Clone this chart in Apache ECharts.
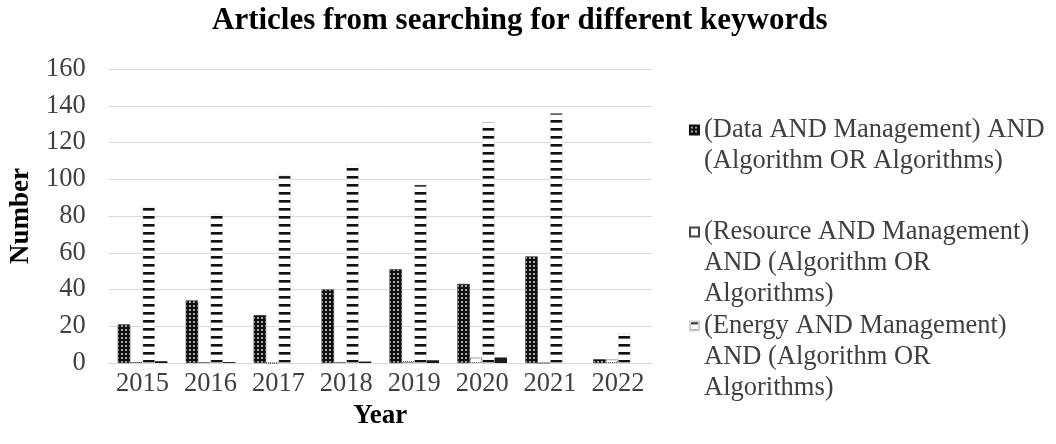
<!DOCTYPE html>
<html>
<head>
<meta charset="utf-8">
<script src="https://cdn.jsdelivr.net/npm/echarts@6/dist/echarts.min.js"></script>
<style>
  html, body { margin: 0; padding: 0; background: #fff; }
  #chart { width: 1056px; height: 444px; }
</style>
</head>
<body>
<div id="chart"></div>
<script>
// Publication years on the category axis
const years = ['2015', '2016', '2017', '2018', '2019', '2020', '2021', '2022'];

// Article counts per keyword query
const dataMgmt = [21, 34, 26, 40, 51, 43, 58, 2];
const resourceMgmt = [0.5, 0.5, 0, 0.5, 1, 3, 0, 2];
const energyMgmt = [85, 81, 102, 108, 97, 131, 136, 16];
const otherQuery = [1, 0.5, 0, 0.8, 1.5, 3, 0, 0];

// Series names and their wrapped legend lines
const seriesNames = [
  '(Data AND Management) AND (Algorithm OR Algorithms)',
  '(Resource AND Management) AND (Algorithm OR Algorithms)',
  '(Energy AND Management) AND (Algorithm OR Algorithms)',
  'Other'
];
const legendLines = [
  ['(Data AND Management) AND', '(Algorithm OR Algorithms)'],
  ['(Resource AND Management)', 'AND (Algorithm OR', 'Algorithms)'],
  ['(Energy AND Management)', 'AND (Algorithm OR', 'Algorithms)']
];

// Value axis ticks
const yMin = 0, yMax = 160, yStep = 20;

const FONT = '"Liberation Serif", "Times New Roman", serif';
const LABEL_SIZE = 26.5;
const LINE_H = 31;

function makeTile(w, h, draw) {
  const c = document.createElement('canvas');
  c.width = w; c.height = h;
  draw(c.getContext('2d'));
  return c;
}

// dark bar with a grid of light dots
const dotTile = makeTile(4, 4, g => {
  g.fillStyle = '#111111'; g.fillRect(0, 0, 4, 4);
  g.fillStyle = '#a8a8a8'; g.fillRect(1, 1, 2, 2);
});
// white bar with horizontal black stripes
const stripeTile = makeTile(4, 8, g => {
  g.fillStyle = '#ffffff'; g.fillRect(0, 0, 4, 8);
  g.fillStyle = '#111111'; g.fillRect(0, 0, 4, 2);
  g.fillStyle = '#666666'; g.fillRect(0, 2, 4, 1);
});

const chart = echarts.init(document.getElementById('chart'), null, { renderer: 'canvas' });

// One legend block per entry; leading blank lines keep the swatch beside the first text line
function legendFor(idx, centerY) {
  const n = legendLines[idx].length;
  return {
    data: [seriesNames[idx]],
    orient: 'vertical',
    left: 689,
    top: centerY - (2 * n - 1) * LINE_H / 2,
    padding: 0,
    itemWidth: 9,
    itemHeight: 9,
    icon: 'rect',
    selectedMode: false,
    formatter: () => '\n'.repeat(n - 1) + legendLines[idx].join('\n'),
    textStyle: {
      fontFamily: FONT,
      fontSize: LABEL_SIZE,
      lineHeight: LINE_H,
      color: '#404040'
    }
  };
}

const barCommon = {
  type: 'bar',
  barGap: '0%',
  barCategoryGap: '27%'
};

chart.setOption({
  animation: false,
  backgroundColor: '#ffffff',
  title: {
    text: 'Articles from searching for different keywords',
    left: 212,
    top: 5,
    padding: 0,
    textStyle: { fontFamily: FONT, fontSize: 31, fontWeight: 'bold', color: '#000' }
  },
  legend: [legendFor(0, 130), legendFor(1, 232), legendFor(2, 326)],
  grid: { left: 100, right: 404, top: 69, bottom: 81 },
  xAxis: {
    type: 'category',
    data: years,
    name: 'Year',
    nameLocation: 'middle',
    nameGap: 36,
    nameTextStyle: { fontFamily: FONT, fontSize: 27, fontWeight: 'bold', color: '#000' },
    axisLine: { show: true, lineStyle: { color: '#d9d9d9', width: 1 } },
    axisTick: { show: false },
    axisLabel: { interval: 0, fontFamily: FONT, fontSize: LABEL_SIZE, color: '#404040', margin: 8 }
  },
  yAxis: {
    type: 'value',
    min: yMin,
    max: yMax,
    interval: yStep,
    name: 'Number',
    nameLocation: 'middle',
    nameGap: 70,
    nameTextStyle: { fontFamily: FONT, fontSize: 27, fontWeight: 'bold', color: '#000' },
    axisLine: { show: false },
    axisTick: { show: false },
    splitLine: { lineStyle: { color: '#d9d9d9', width: 1 } },
    axisLabel: { fontFamily: FONT, fontSize: LABEL_SIZE, color: '#404040', margin: 23 }
  },
  series: [
    Object.assign({}, barCommon, {
      name: seriesNames[0],
      data: dataMgmt,
      itemStyle: { color: { image: dotTile, repeat: 'repeat' }, borderColor: '#111', borderWidth: 0.5 }
    }),
    Object.assign({}, barCommon, {
      name: seriesNames[1],
      data: resourceMgmt,
      itemStyle: { color: '#ffffff', borderColor: '#444', borderWidth: 1, borderType: 'dotted' }
    }),
    Object.assign({}, barCommon, {
      name: seriesNames[2],
      data: energyMgmt,
      itemStyle: { color: { image: stripeTile, repeat: 'repeat' }, borderColor: '#d0d0d0', borderWidth: 0.5 }
    }),
    Object.assign({}, barCommon, {
      name: seriesNames[3],
      data: otherQuery,
      itemStyle: { color: '#1a1a1a' }
    })
  ]
});
</script>
</body>
</html>
